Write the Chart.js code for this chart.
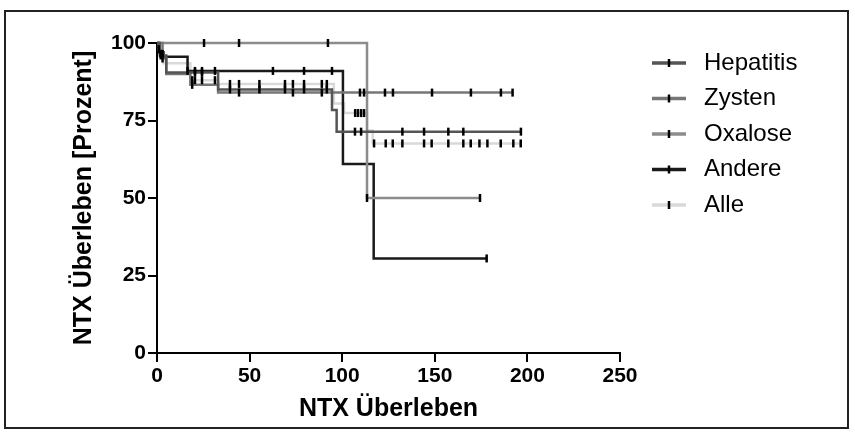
<!DOCTYPE html>
<html>
<head>
<meta charset="utf-8">
<script src="https://cdn.jsdelivr.net/npm/chart.js@4.4.0/dist/chart.umd.min.js"></script>
<style>
html, body { margin: 0; padding: 0; background: #fff; }
#wrap { position: relative; width: 855px; height: 435px; }
#rahmen { position: absolute; left: 4px; top: 10px; width: 845px; height: 419px; border: 2px solid #222; box-sizing: border-box; pointer-events: none; }
</style>
</head>
<body>
<div id="wrap">
  <canvas id="km" width="855" height="435"></canvas>
  <div id="rahmen"></div>
</div>
<script>
"use strict"
// Kaplan-Meier Kurven: Zeitpunkte und Überleben in Prozent
const gruppen = ["Hepatitis", "Zysten", "Oxalose", "Andere", "Alle"];
const farben = ["#555555", "#777777", "#8c8c8c", "#1a1a1a", "#d9d9d9"];

const hepZeit = [0, 1.5, 5, 33, 94.5, 97, 196.5];
const hepWert = [100, 96, 90.5, 85, 78.4, 71.4, 71.4];
const hepZensiert = [2, 20.5, 24.3, 39.4, 55.3, 69.1, 79.4, 91.7, 106.9, 110.2, 132.5, 144.2, 157.3, 165.4, 196.5];

const zysZeit = [0, 3, 5, 18, 33, 192];
const zysWert = [100, 95, 90, 86.5, 84, 84];
const zysZensiert = [3, 19, 44.3, 73.4, 89, 109.6, 111.8, 123.1, 127.4, 148.5, 169.5, 185.7, 192];

const oxaZeit = [0, 113.4, 174.4];
const oxaWert = [100, 50, 50];
const oxaZensiert = [25.4, 44.3, 92.3, 113.4, 174.4];

const andZeit = [0, 1, 3.5, 16.5, 100.4, 117, 178];
const andWert = [100, 97, 95.6, 91, 61, 30.5, 30.5];
const andZensiert = [16.5, 20.5, 24.3, 31.3, 62.6, 79.4, 94.5, 178];

const alleZeit = [0, 1, 2, 3.5, 18, 33, 95.5, 101, 113.4, 116.5, 196.5];
const alleWert = [100, 98, 96.5, 93.5, 88, 86.8, 80.5, 77.4, 71.8, 67.6, 67.6];
const alleZensiert = [1, 2, 3, 19, 20.5, 24.3, 31.3, 39.4, 44.3, 55.3, 69.1, 73.4, 79.4, 89, 91.7, 107, 108.5, 110.2, 111.8, 117.2, 123.5, 127.3, 132.5, 144.2, 148.3, 157.3, 165.4, 169.4, 174.1, 178.4, 185.6, 192.4, 196.4];

const xTicks = [0, 50, 100, 150, 200, 250];
const yTicks = [0, 25, 50, 75, 100];

const zeiten = [hepZeit, zysZeit, oxaZeit, andZeit, alleZeit];
const werte = [hepWert, zysWert, oxaWert, andWert, alleWert];
const zensiert = [hepZensiert, zysZensiert, oxaZensiert, andZensiert, alleZensiert];

const schrift = '"Liberation Sans", Arial, Helvetica, sans-serif';

// Wert der Treppenkurve zum Zeitpunkt t (letzter Schritt <= t)
function stufe(zeit, wert, t) {
    let w = wert[0];
    for (let i = 0; i < zeit.length; i++) {
        if (zeit[i] <= t) w = wert[i];
    }
    return w;
}

let datasets = [];
for (let i = 0; i < gruppen.length; i++) {
    datasets.push({
        label: gruppen[i],
        data: zeiten[i].map((t, k) => ({x: t, y: werte[i][k]})),
        stepped: true,
        borderColor: farben[i],
        borderWidth: 2.5,
        pointRadius: 0,
        fill: false,
        clip: false,
        order: i == 4 ? 10 : 5
    });
}
// Zensierungen als senkrechte Striche
for (let i = 0; i < gruppen.length; i++) {
    datasets.push({
        label: gruppen[i] + " zensiert",
        data: zensiert[i].map(t => ({x: t, y: stufe(zeiten[i], werte[i], t)})),
        showLine: false,
        pointStyle: 'line',
        pointRotation: 90,
        pointRadius: 4,
        pointBorderWidth: 2.5,
        pointBorderColor: '#000',
        borderColor: '#000',
        clip: false,
        order: 0
    });
}

// eigene Legende (Linie mit Strich + Text)
const legende = {
    id: 'legende',
    afterDraw(chart) {
        const ctx = chart.ctx;
        ctx.save();
        for (let i = 0; i < gruppen.length; i++) {
            const y = 63 + i * 35.5;
            ctx.strokeStyle = farben[i];
            ctx.lineWidth = 3.5;
            ctx.beginPath(); ctx.moveTo(652, y); ctx.lineTo(686, y); ctx.stroke();
            ctx.strokeStyle = '#000';
            ctx.lineWidth = 2.5;
            ctx.beginPath(); ctx.moveTo(669, y - 4); ctx.lineTo(669, y + 4); ctx.stroke();
            ctx.fillStyle = '#000';
            ctx.font = '24px ' + schrift;
            ctx.textBaseline = 'middle';
            ctx.textAlign = 'left';
            ctx.fillText(gruppen[i], 704, y);
        }
        ctx.restore();
    }
};

const achse = {
    grid: { display: true, drawOnChartArea: false, drawTicks: true, tickLength: 9, color: '#000', lineWidth: 2 },
    border: { display: true, color: '#000', width: 2 }
};

new Chart(document.getElementById('km'), {
    type: 'line',
    data: { datasets: datasets },
    options: {
        responsive: false,
        animation: false,
        events: [],
        devicePixelRatio: 1,
        layout: { padding: { left: 65, right: 235, top: 43, bottom: 7 } },
        plugins: { legend: { display: false }, tooltip: { enabled: false } },
        scales: {
            x: {
                type: 'linear', min: 0, max: 250,
                afterBuildTicks: s => { s.ticks = xTicks.map(v => ({value: v})); },
                ticks: { font: { family: schrift, size: 21, weight: 'bold' }, color: '#000', padding: 2, maxRotation: 0 },
                grid: achse.grid, border: achse.border,
                title: { display: true, text: 'NTX Überleben', color: '#000', font: { family: schrift, size: 25, weight: 'bold' }, padding: { top: 4, bottom: 4 } },
                afterFit: s => { s.height = 75; }
            },
            y: {
                type: 'linear', min: 0, max: 100,
                afterBuildTicks: s => { s.ticks = yTicks.map(v => ({value: v})); },
                ticks: { font: { family: schrift, size: 21, weight: 'bold' }, color: '#000', padding: 2 },
                grid: achse.grid, border: achse.border,
                title: { display: true, text: 'NTX Überleben [Prozent]', color: '#000', font: { family: schrift, size: 25, weight: 'bold' }, padding: { top: 4, bottom: 4 } },
                afterFit: s => { s.width = 92; }
            }
        }
    },
    plugins: [legende]
});
</script>
</body>
</html>
